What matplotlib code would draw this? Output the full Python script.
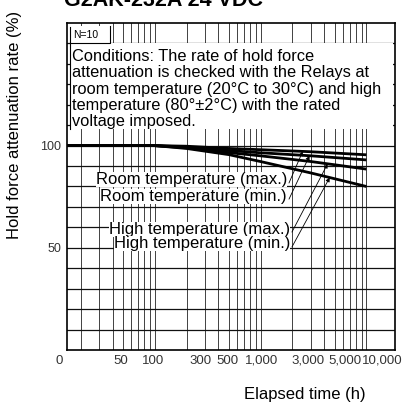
import numpy as np
import matplotlib.pyplot as plt
import matplotlib.transforms as mtransforms
from matplotlib.patches import Rectangle

plt.rcParams['font.family'] = ['Liberation Sans', 'DejaVu Sans']

# data
hours = [15, 100, 200, 500, 1000, 3000, 10000]
room_max = [100, 100, 99.7, 98.6, 98.0, 97.0, 95.5]
room_min = [100, 100, 99.3, 97.6, 96.5, 95.0, 93.0]
high_max = [100, 100, 98.9, 96.6, 95.0, 92.2, 88.5]
high_min = [100, 100, 98.6, 95.6, 92.2, 86.6, 80.0]

x_ticks = [50, 100, 300, 500, 1000, 3000, 5000, 10000]
x_tick_labels = ["50", "100", "300", "500", "1,000", "3,000", "5,000", "10,000"]

labels = ["Room temperature (max.)", "Room temperature (min.)",
          "High temperature (max.)", "High temperature (min.)"]
arrow_hours = [2500, 2900, 4300, 4500]

conditions = ("Conditions: The rate of hold force\n"
              "attenuation is checked with the Relays at\n"
              "room temperature (20°C to 30°C) and high\n"
              "temperature (80°±2°C) with the rated\n"
              "voltage imposed.")

fig = plt.figure(figsize=(4.03, 4.03), dpi=100)
ax = fig.add_axes([0.166, 0.1315, 0.814, 0.8115])

ax.set_xscale("log")
ax.set_xlim(14.8, 18600)
ax.set_ylim(0, 160)

# log-paper grid
grid_x = [m * 10 ** e for e in (1, 2, 3) for m in range(1, 10)] + [10000]
for gx in grid_x:
    if gx > 15:
        ax.axvline(gx, color="#333333", lw=0.65, zorder=1)
for gy in range(10, 160, 10):
    ax.axhline(gy, color="#111111", lw=0.9, zorder=1)

ax.set_yticks([50, 100])
ax.set_yticklabels(["50", "100"], fontsize=9, color="#333333")
ax.set_xticks([])
ax.minorticks_off()
ax.tick_params(length=0, pad=4)

# x tick labels, nudged like the printed chart
label_shift = [-2, -2, -5, -1, 1, -3.5, 10.5, 15.5]
xt = ax.get_xaxis_transform()
for xv, txt, dx in zip(x_ticks, x_tick_labels, label_shift):
    off = mtransforms.ScaledTranslation(dx / 100, 0, fig.dpi_scale_trans)
    ax.text(xv, -0.015, txt, transform=xt + off, ha="center", va="top",
            fontsize=9.5, color="#333333")
ax.text(-0.025, -0.015, "0", transform=ax.transAxes, ha="center", va="top",
        fontsize=9.5, color="#333333")
for sp in ax.spines.values():
    sp.set_linewidth(1.2)

series = [room_max, room_min, high_max, high_min]
for s in series:
    ax.plot(hours, s, color="black", lw=2.0, zorder=4, solid_capstyle="butt")

yt = ax.get_yaxis_transform()
# conditions box and N=10 box
ax.add_patch(Rectangle((0.01, 108), 0.984, 42, transform=yt,
                       facecolor="white", edgecolor="none", zorder=2))
ax.plot([0.01, 0.01], [108, 158], transform=yt, color="black", lw=0.8, zorder=3)
ax.add_patch(Rectangle((0.01, 150), 0.121, 8.5, transform=yt,
                       facecolor="white", edgecolor="none", zorder=2))
ax.plot([0.01, 0.131, 0.131], [150, 150, 158.5], transform=yt,
        color="black", lw=0.8, zorder=3)
ax.text(0.02, 154, "N=10", transform=yt, fontsize=7.5,
        va="center", ha="left", zorder=5)
ax.text(0.016, 147.2, conditions, transform=yt, fontsize=11.8,
        va="top", ha="left", linespacing=1.1, zorder=5)

# curve labels with leader lines
label_pos = [(0.671, 83.2), (0.671, 75.3), (0.68, 59.2), (0.68, 51.9)]
for lab, (lx, ly), ah, s in zip(labels, label_pos, arrow_hours, series):
    ax.text(lx, ly, lab, transform=yt, fontsize=12,
            ha="right", va="center", zorder=5,
            bbox=dict(facecolor="white", edgecolor="none", pad=0.0))
    yv = np.interp(np.log10(ah), np.log10(hours), s)
    ax.annotate("", xy=(ah, yv), xycoords="data",
                xytext=(lx + 0.006, ly - 1.5), textcoords=yt,
                arrowprops=dict(arrowstyle="-|>", lw=0.6, color="black",
                                mutation_scale=6, shrinkA=0, shrinkB=0),
                zorder=6)

ax.set_ylabel("Hold force attenuation rate (%)", fontsize=12)
ax.yaxis.set_label_coords(-0.137, 0.688)
fig.text(0.757, 0.02, "Elapsed time (h)", ha="center", va="center", fontsize=12)

fig.text(0.16, 1 - 5.5 / 403, "G2AK-232A 24 VDC", fontsize=15.5, fontweight="bold",
         ha="left", va="baseline")

fig.savefig("out.png", dpi=100)
